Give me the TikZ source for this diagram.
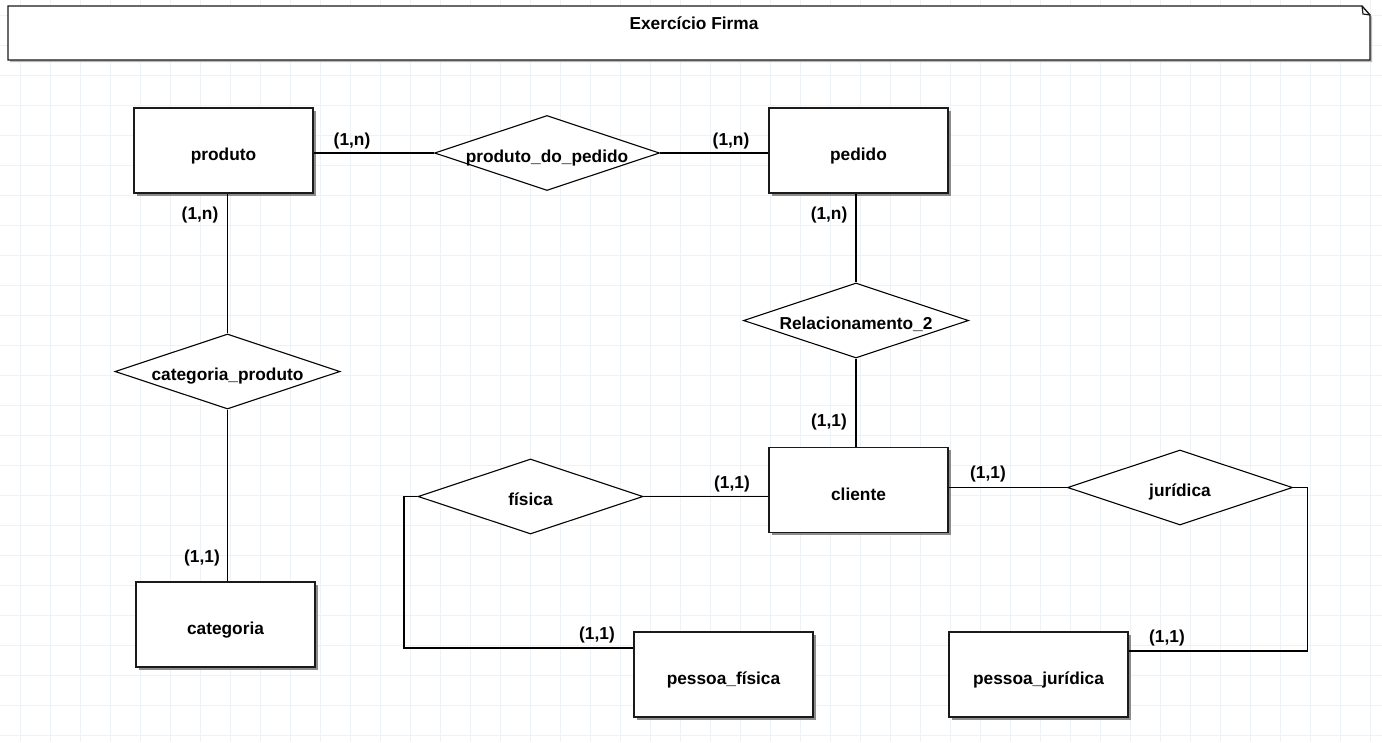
\documentclass[tikz,border=0pt]{standalone}
\usepackage{fontspec}
\setmainfont{Liberation Sans}
\usetikzlibrary{shapes.geometric,shadows}
\definecolor{gridc}{HTML}{EDF2F7}
\definecolor{shad}{HTML}{8C8C8C}
\definecolor{edgec}{HTML}{1A1A1A}
\tikzset{
  x=1pt, y=-1pt,
  every node/.style={font=\fontsize{17.3}{20}\selectfont\bfseries, inner sep=0pt},
  entity/.style={draw=edgec, line width=1.6pt, fill=white, minimum width=179pt, minimum height=85pt,
     text height=20pt, text depth=0pt,
     general shadow={fill=shad, shadow xshift=2.5pt, shadow yshift=-2.5pt}},
  rel/.style={draw=black, line width=1.1pt, fill=white, diamond, aspect=3, minimum width=225pt, minimum height=75pt,
     text height=18pt, text depth=0pt},
  conn/.style={draw=black, line width=1.1pt},
  card/.style={inner sep=0pt},
  gridline/.style={draw=gridc, line width=0.9pt},
}
\begin{document}
\begin{tikzpicture}
\useasboundingbox (0,0) rectangle (1382,742);
\fill[white] (0,0) rectangle (1382,742);
% grid
\foreach \gx in {20,50,...,1380} \draw[gridline] (\gx,0) -- (\gx,742);
\foreach \gy in {15,45,...,740} \draw[gridline] (0,\gy) -- (1382,\gy);
% title note
\fill[shad!60] (10,8) -- (1364,8) -- (1372,17) -- (1372,62) -- (10,62) -- cycle;
\draw[edgec, line width=1.4pt, fill=white] (8,6) -- (1362,6) -- (1370,15) -- (1370,60) -- (8,60) -- cycle;
\draw[edgec, line width=1.2pt] (1362,6) -- (1363,14) -- (1370,15);
\node (title) at (694,23) {Exercício Firma};
% entities
\node[entity] (produto) at (223.5,150.5) {produto};
\node[entity] (pedido) at (858.5,150.5) {pedido};
\node[entity] (cliente) at (858.5,490) {cliente};
\node[entity] (categoria) at (225.5,624.5) {categoria};
\node[entity] (pfisica) at (723.5,674.5) {pessoa\_física};
\node[entity] (pjuridica) at (1038.5,674.5) {pessoa\_jurídica};
% relationships
\node[rel] (ppedido) at (547,153) {produto\_do\_pedido};
\node[rel] (rel2) at (856,320.5) {Relacionamento\_2};
\node[rel] (catprod) at (227.5,371.5) {categoria\_produto};
\node[rel] (fisica) at (530.5,496.5) {física};
\node[rel] (juridica) at (1180,487.5) {jurídica};
% connector coordinates
\coordinate (fL) at (404,496.5);
\coordinate (fB) at (404,648);
\coordinate (jR) at (1307.5,487.5);
\coordinate (jB) at (1307.5,651);
% connectors
\draw[conn] (produto.east |- ppedido.west) -- (ppedido.west);
\draw[conn] (ppedido.east) -- (pedido.west |- ppedido.east);
\draw[conn] (catprod.north |- produto.south) -- (catprod.north);
\draw[conn] (catprod.south) -- (catprod.south |- categoria.north);
\draw[conn] (rel2.north |- pedido.south) -- (rel2.north);
\draw[conn] (rel2.south) -- (rel2.south |- cliente.north);
\draw[conn] (fisica.east) -- (cliente.west |- fisica.east);
\draw[conn] (fisica.west) -- (fL) -- (fB) -- (pfisica.west |- fB);
\draw[conn] (cliente.east |- juridica.west) -- (juridica.west);
\draw[conn] (juridica.east) -- (jR) -- (jB) -- (pjuridica.east |- jB);
% cardinalities
\node[card] (c1) at (352,141) {(1,n)};
\node[card] (c2) at (731,141) {(1,n)};
\node[card] (c3) at (200,215) {(1,n)};
\node[card] (c4) at (202,558) {(1,1)};
\node[card] (c5) at (829,215) {(1,n)};
\node[card] (c6) at (829,422) {(1,1)};
\node[card] (c7) at (732,484) {(1,1)};
\node[card] (c8) at (597,635) {(1,1)};
\node[card] (c9) at (988,474) {(1,1)};
\node[card] (c10) at (1167,638) {(1,1)};
\end{tikzpicture}
\end{document}
